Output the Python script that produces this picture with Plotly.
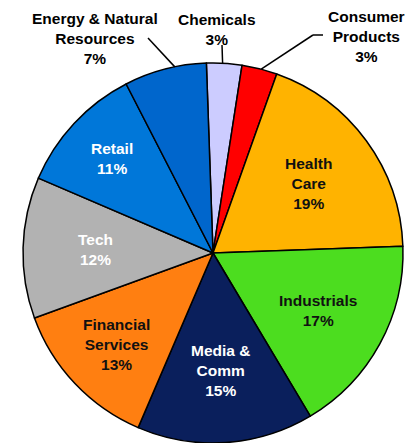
import math
import plotly.graph_objects as go

# ---- data ----
categories = ["Chemicals", "Consumer<br>Products", "Health<br>Care", "Industrials",
              "Media &<br>Comm", "Financial<br>Services", "Tech", "Retail",
              "Energy & Natural<br>Resources"]
shares = [3, 3, 19, 17, 15, 13, 12, 11, 7]
colors = ["#CCCCFF", "#FF0000", "#FFB300", "#4CDD1F", "#0A1F5C",
          "#FF7F11", "#B2B2B2", "#0077D9", "#0066CC"]
text_colors = ["#000000", "#000000", "#111111", "#111111", "#FFFFFF",
               "#111111", "#FFFFFF", "#FFFFFF", "#000000"]
placement = ["out", "out", "in", "in", "in", "in", "in", "in", "out"]

# ---- layout constants ----
W, H = 406, 443
ROT = -2.0
FONT = "Liberation Sans, Arial, sans-serif"
FS = 15.5
dom_x = [23 / W, 403 / W]
dom_y = [0.0, 380 / H]
cx = (dom_x[0] + dom_x[1]) / 2 * W
cy = H - (dom_y[0] + dom_y[1]) / 2 * H
R = min((dom_x[1] - dom_x[0]) * W, (dom_y[1] - dom_y[0]) * H) / 2
label_r = [None, None, 0.62, 0.63, 0.62, 0.70, 0.62, 0.73, None]
# outside label anchors (pixel), leader-line elbows, and edge-angle nudges
out_label_pos = {0: (217, 29), 1: (366, 36), 8: (95, 38)}
leader_pts = {0: [(222, 45)], 1: [(313, 35), (323, 35)], 8: [(148, 38)]}
edge_nudge = {0: -0.5, 1: 0.5, 8: 3.0}


def px2paper(x, y):
    return x / W, 1 - y / H


fig = go.Figure(go.Pie(
    labels=categories, values=shares, sort=False, direction="clockwise",
    rotation=ROT, marker=dict(colors=colors, line=dict(color="#000000", width=1.5)),
    textinfo="none", hoverinfo="label+percent", showlegend=False,
    domain=dict(x=dom_x, y=dom_y),
))

total = sum(shares)
cum = 0.0
annotations = []
shapes = []
for i, (cat, v) in enumerate(zip(categories, shares)):
    mid = ROT + (cum + v / 2) / total * 360
    cum += v
    a = math.radians(mid)
    label = f"<b>{cat}<br>{v}%</b>"
    if placement[i] == "in":
        r = label_r[i] * R
        x, y = cx + r * math.sin(a), cy - r * math.cos(a)
    else:
        x, y = out_label_pos[i]
        # leader line from slice edge to label
        ae = math.radians(mid + edge_nudge[i])
        ex, ey = cx + R * math.sin(ae), cy - R * math.cos(ae)
        pts = [(ex, ey)] + leader_pts[i]
        for (x0, y0), (x1, y1) in zip(pts[:-1], pts[1:]):
            p0 = px2paper(x0, y0)
            p1 = px2paper(x1, y1)
            shapes.append(dict(type="line", xref="paper", yref="paper",
                               x0=p0[0], y0=p0[1], x1=p1[0], y1=p1[1],
                               line=dict(color="#000000", width=1.5)))
    px, py = px2paper(x, y)
    annotations.append(dict(x=px, y=py, xref="paper", yref="paper", text=label,
                            showarrow=False, xanchor="center", yanchor="middle",
                            align="center",
                            font=dict(family=FONT, size=FS, color=text_colors[i])))

fig.update_layout(
    width=W, height=H, margin=dict(l=0, r=0, t=0, b=0),
    paper_bgcolor="#FFFFFF", plot_bgcolor="#FFFFFF",
    annotations=annotations, shapes=shapes,
)
fig.write_html("out.html", config={"displayModeBar": False},
               post_script="document.body.style.margin='0';"
                           "document.body.style.overflow='hidden';")
